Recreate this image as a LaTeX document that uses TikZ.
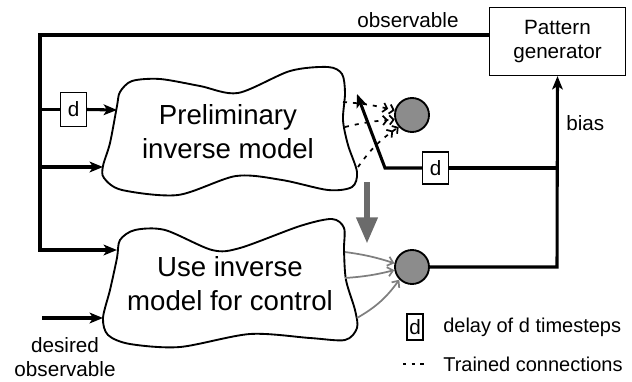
\documentclass[tikz,border=0pt]{standalone}
\usepackage{fontspec}
\setmainfont{Liberation Sans}
\usepackage{xcolor}
\usetikzlibrary{arrows.meta}

\definecolor{sumgray}{HTML}{8C8C8C}
\definecolor{linkgray}{HTML}{7F7F7F}
\definecolor{shiftgray}{HTML}{6B6B6B}

\begin{document}
\begin{tikzpicture}[x=0.75pt, y=-0.75pt,
  wire/.style={line width=2.3pt},
  arrowed/.style={-{Stealth[length=10pt,width=8pt,inset=2.5pt]}},
  blob/.style={line width=1.4pt},
  txt/.style={inner sep=0pt, font=\fontsize{15.5}{17.6}\selectfont},
  keytxt/.style={inner sep=0pt, anchor=west, font=\fontsize{15}{17}\selectfont},
  model/.style={align=center, inner sep=0pt, font=\fontsize{20.7}{25.5}\selectfont},
  delay/.style={draw, line width=0.9pt, fill=white, inner sep=0pt, minimum width=19pt, minimum height=25pt, font=\fontsize{15.5}{17.6}\selectfont},
  sum/.style={circle, draw, line width=1.4pt, fill=sumgray, minimum size=25.5pt, inner sep=0pt},
  trained/.style={line width=1.3pt, dash pattern=on 3pt off 4.5pt, -{Straight Barb[length=3pt,width=7pt,sep=0.5pt]Straight Barb[length=3pt,width=7pt]}},
  plainlink/.style={line width=1.3pt, draw=linkgray, -{Straight Barb[length=4pt,width=7pt]}}]
  \useasboundingbox (0,0) rectangle (632,382);

  % pattern generator
  \node[draw, line width=0.9pt, minimum width=102pt, minimum height=51pt, align=center, txt] (pattern) at (557.5,41.5) {Pattern\\generator};

  % the two models
  \draw[blob] plot[smooth cycle] coordinates {(132,81) (160,79) (200,86) (238,93) (290,71) (328,67) (342,74) (345,93) (343,120) (348,145) (357,172) (352,187) (328,190) (282,180) (236,176) (178,195) (122,190) (104,178) (103,166) (110,143) (117,106) (120,92)};
  \node[model] (prelim) at (228,131.5) {Preliminary\\inverse model};
  \draw[blob] plot[smooth cycle] coordinates {(135,230) (165,230) (212,250) (240,248) (300,226) (332,219) (344,228) (344,250) (346,280) (355,310) (357,328) (345,340) (310,338) (250,334) (180,347) (130,344) (108,335) (103,318) (110,290) (117,258) (120,240)};
  \node[model] (control) at (230,283.5) {Use inverse\\model for control};

  % summing units
  \node[sum] (sumtop) at (412,115) {};
  \node[sum] (sumbot) at (412,267) {};

  % delays
  \node[delay] (din) at (73.5,109.5) {d};
  \node[delay, minimum height=24pt] (dfb) at (435.5,168) {d};

  % ports
  \coordinate (obs) at (489,35);
  \coordinate (lefttop) at (40,35);
  \coordinate (leftbot) at (40,250);
  \coordinate (pin1) at (117,110);
  \coordinate (pin2) at (103,167);
  \coordinate (cin1) at (117,250);
  \coordinate (cin2) at (103,318);
  \coordinate (desired) at (42,318);
  \coordinate (pout1) at (343,102);
  \coordinate (pout2) at (345,127);
  \coordinate (pout3) at (358,167);
  \coordinate (cout1) at (345,252);
  \coordinate (cout2) at (345,278);
  \coordinate (cout3) at (357,318);
  \coordinate (biasjoin) at (557,168);
  \coordinate (biascorner) at (557,267);
  \coordinate (kink) at (385,168);
  \coordinate (fbtip) at (357,94);

  % observable fan-out
  \draw[wire, arrowed] (obs) -- (lefttop) -- (leftbot) -- (cin1);
  \draw[wire] (lefttop |- din) -- (din.west);
  \draw[wire, arrowed] (din.east) -- (pin1);
  \draw[wire, arrowed] (lefttop |- pin2) -- (pin2);
  \draw[wire, arrowed] (desired) -- (cin2);
  \node[txt] (obstxt) at (408,20) {observable};
  \node[txt, align=center] (desiredtxt) at (65,357) {desired\\observable};

  % bias and feedback
  \draw[wire, arrowed] (sumbot.east) -- (biascorner) -- (pattern.south);
  \draw[wire] (biasjoin) -- (dfb.east);
  \draw[wire, arrowed] (dfb.west) -- (kink) -- (fbtip);
  \node[txt, anchor=west] (biastxt) at (566,123) {bias};

  % connections to the units
  \draw[trained] (pout1) to[bend left=5] (sumtop.165);
  \draw[trained] (pout2) to[bend left=5] (sumtop.195);
  \draw[trained] (pout3) to[bend left=10] (sumtop.222);
  \draw[plainlink] (cout1) to[bend left=5] (sumbot.168);
  \draw[plainlink] (cout2) to[bend right=5] (sumbot.190);
  \draw[plainlink] (cout3) to[bend right=12] (sumbot.225);

  % copy the model
  \coordinate (shiftfrom) at (367,182);
  \coordinate (shiftto) at (367,244);
  \draw[line width=5pt, draw=shiftgray, -{Triangle[length=20pt,width=15pt]}] (shiftfrom) -- (shiftto);

  % legend
  \node[delay, minimum width=12pt, minimum height=19.5pt] (dkey) at (415,327) {d};
  \node[keytxt] (dkeytxt) at (443,327) {delay of d timesteps};
  \coordinate (dasha) at (403,364);
  \coordinate (dashb) at (426,364);
  \draw[line width=1.3pt, dash pattern=on 2.5pt off 4pt] (dasha) -- (dashb);
  \node[keytxt] (trainedtxt) at (443,364) {Trained connections};
\end{tikzpicture}
\end{document}
